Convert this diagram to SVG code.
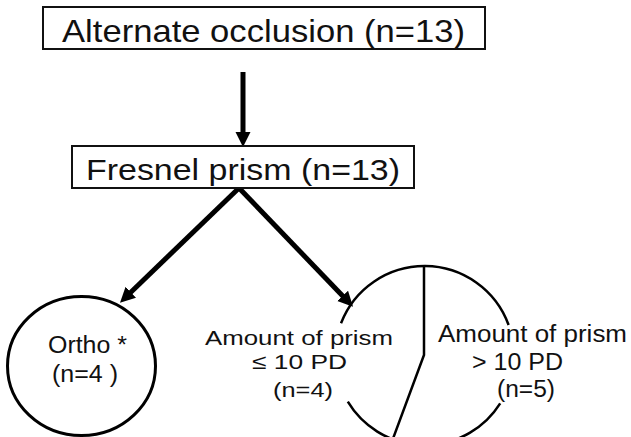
<svg xmlns="http://www.w3.org/2000/svg" width="631" height="437" viewBox="0 0 631 437">
<style>
  text { font-family: "Liberation Sans", Arial, sans-serif; fill: #111; text-anchor: middle; }
  .box { fill: #fff; stroke: #111; stroke-width: 2; }
  .conn { stroke: #000; stroke-width: 5; fill: none; }
  .edge { stroke: #000; fill: none; }
  .t1 { font-size: 32px; }
  .t2 { font-size: 29px; }
  .t3 { font-size: 23px; }
  .t4 { font-size: 21px; }
</style>
<defs>
  <marker id="ah" markerUnits="userSpaceOnUse" markerWidth="16" markerHeight="16" refX="5" refY="7.5" orient="auto">
    <path d="M0,0 L15,7.5 L0,15 z" fill="#000"/>
  </marker>
</defs>
<rect width="631" height="437" fill="#fff"/>
<g id="connectors">
  <line class="conn" x1="243" y1="72" x2="243" y2="137" marker-end="url(#ah)"/>
  <line class="conn" x1="239" y1="188" x2="127.2" y2="295.7" marker-end="url(#ah)"/>
  <line class="conn" x1="239" y1="188" x2="346.1" y2="299.5" marker-end="url(#ah)"/>
</g>
<g id="node-alternate">
  <rect class="box" x="43" y="7" width="442" height="42"/>
  <text class="t1" x="263.5" y="42" textLength="403" lengthAdjust="spacingAndGlyphs">Alternate occlusion (n=13)</text>
</g>
<g id="node-fresnel">
  <rect class="box" x="72" y="146" width="342" height="42"/>
  <text class="t2" x="243" y="180" textLength="314" lengthAdjust="spacingAndGlyphs">Fresnel prism (n=13)</text>
</g>
<g id="node-ortho">
  <ellipse class="edge" cx="81.5" cy="366" rx="74" ry="69.5" stroke-width="3"/>
  <text class="t3" x="87.5" y="353" textLength="79" lengthAdjust="spacingAndGlyphs">Ortho *</text>
  <text class="t3" x="85" y="382" textLength="66" lengthAdjust="spacingAndGlyphs">(n=4 )</text>
</g>
<g id="node-prism">
  <path class="edge" stroke-width="2.5" d="M341,323.3 A89.5,89.5 0 0 1 508.6,325"/>
  <path class="edge" stroke-width="2.5" d="M347.8,401.7 A89.5,89.5 0 0 0 500.2,403.3"/>
  <path class="edge" stroke-width="2.5" d="M424,266 L424,355 L392.5,440"/>
  <text class="t4" x="299" y="345" textLength="188" lengthAdjust="spacingAndGlyphs">Amount of prism</text>
  <text class="t4" x="299.5" y="369" textLength="95" lengthAdjust="spacingAndGlyphs">≤ 10 PD</text>
  <text class="t4" x="303" y="397" textLength="60" lengthAdjust="spacingAndGlyphs">(n=4)</text>
  <text class="t3" x="532.5" y="342" textLength="189" lengthAdjust="spacingAndGlyphs">Amount of prism</text>
  <text class="t3" x="517.5" y="370" textLength="91" lengthAdjust="spacingAndGlyphs">&gt; 10 PD</text>
  <text class="t3" x="526" y="397" textLength="58" lengthAdjust="spacingAndGlyphs">(n=5)</text>
</g>
</svg>
